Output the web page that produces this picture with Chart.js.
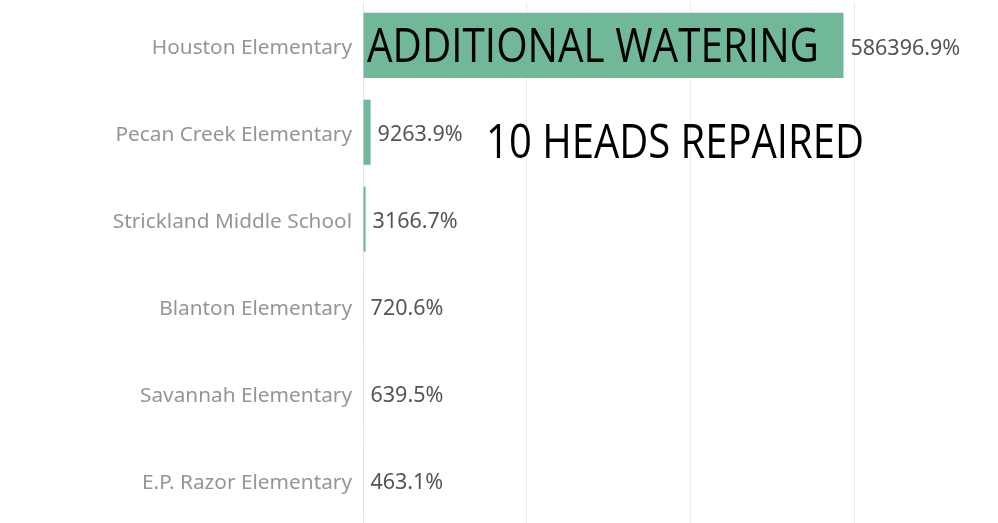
<!DOCTYPE html>
<html>
<head>
<meta charset="utf-8">
<script src="https://cdn.jsdelivr.net/npm/chart.js@4/dist/chart.umd.min.js"></script>
<style>
  html, body { margin: 0; padding: 0; background: #fff; }
  #wrap { width: 998px; height: 523px; }
</style>
</head>
<body>
<div id="wrap"><canvas id="schoolChart"></canvas></div>
<script>
const schools = ['Houston Elementary', 'Pecan Creek Elementary', 'Strickland Middle School',
  'Blanton Elementary', 'Savannah Elementary', 'E.P. Razor Elementary'];
const pctChange = [586396.9, 9263.9, 3166.7, 720.6, 639.5, 463.1];
const gridTicks = [0, 200000, 400000, 600000];
const notes = [
  { text: 'ADDITIONAL WATERING', x: 367, y: 62, w: 452 },
  { text: '10 HEADS REPAIRED', x: 486, y: 158, w: 378 }
];

// value text at the end of each bar
const valueLabels = {
  id: 'valueLabels',
  afterDatasetsDraw(chart) {
    const c = chart.ctx;
    const meta = chart.getDatasetMeta(0);
    c.save();
    c.font = '21.5px "Noto Sans"';
    c.fillStyle = '#555';
    c.textBaseline = 'middle';
    meta.data.forEach((bar, i) => {
      c.fillText(pctChange[i].toFixed(1) + '%', bar.x + 7, bar.y + 3);
    });
    c.restore();
  }
};

// the two notes typed over the chart
const notesPlugin = {
  id: 'notes',
  afterDraw(chart) {
    const c = chart.ctx;
    c.save();
    c.font = '47px "Open Sans"';
    c.fillStyle = '#000';
    c.textBaseline = 'alphabetic';
    notes.forEach(n => {
      const mw = c.measureText(n.text).width;
      c.save();
      c.translate(n.x, n.y);
      c.scale(n.w / mw, 1);
      c.fillText(n.text, 0, 0);
      c.restore();
    });
    c.restore();
  }
};

new Chart(document.getElementById('schoolChart'), {
  type: 'bar',
  data: {
    labels: schools,
    datasets: [{
      data: pctChange,
      backgroundColor: '#70b898',
      categoryPercentage: 1,
      barPercentage: 0.75
    }]
  },
  options: {
    indexAxis: 'y',
    responsive: true,
    maintainAspectRatio: false,
    animation: false,
    layout: { padding: { top: 2, right: 0, bottom: 0, left: 0 } },
    plugins: { legend: { display: false }, tooltip: { enabled: false } },
    scales: {
      x: {
        min: 0,
        max: 775000,
        ticks: { display: false },
        afterBuildTicks: s => { s.ticks = gridTicks.map(v => ({ value: v })); },
        grid: { drawTicks: false, color: '#ebebeb', lineWidth: 1 },
        border: { display: false },
        afterFit: s => { s.height = 0; s.paddingLeft = 0; s.paddingRight = 0; }
      },
      y: {
        ticks: {
          color: '#959595',
          font: { family: '"Noto Sans"', size: 20.8 },
          padding: 11,
          labelOffset: 3
        },
        grid: { display: false, drawTicks: false },
        border: { display: true, color: '#e6e6e6' },
        afterFit: s => { s.width = 363; s.paddingTop = 0; s.paddingBottom = 0; }
      }
    }
  },
  plugins: [valueLabels, notesPlugin]
});
</script>
</body>
</html>
